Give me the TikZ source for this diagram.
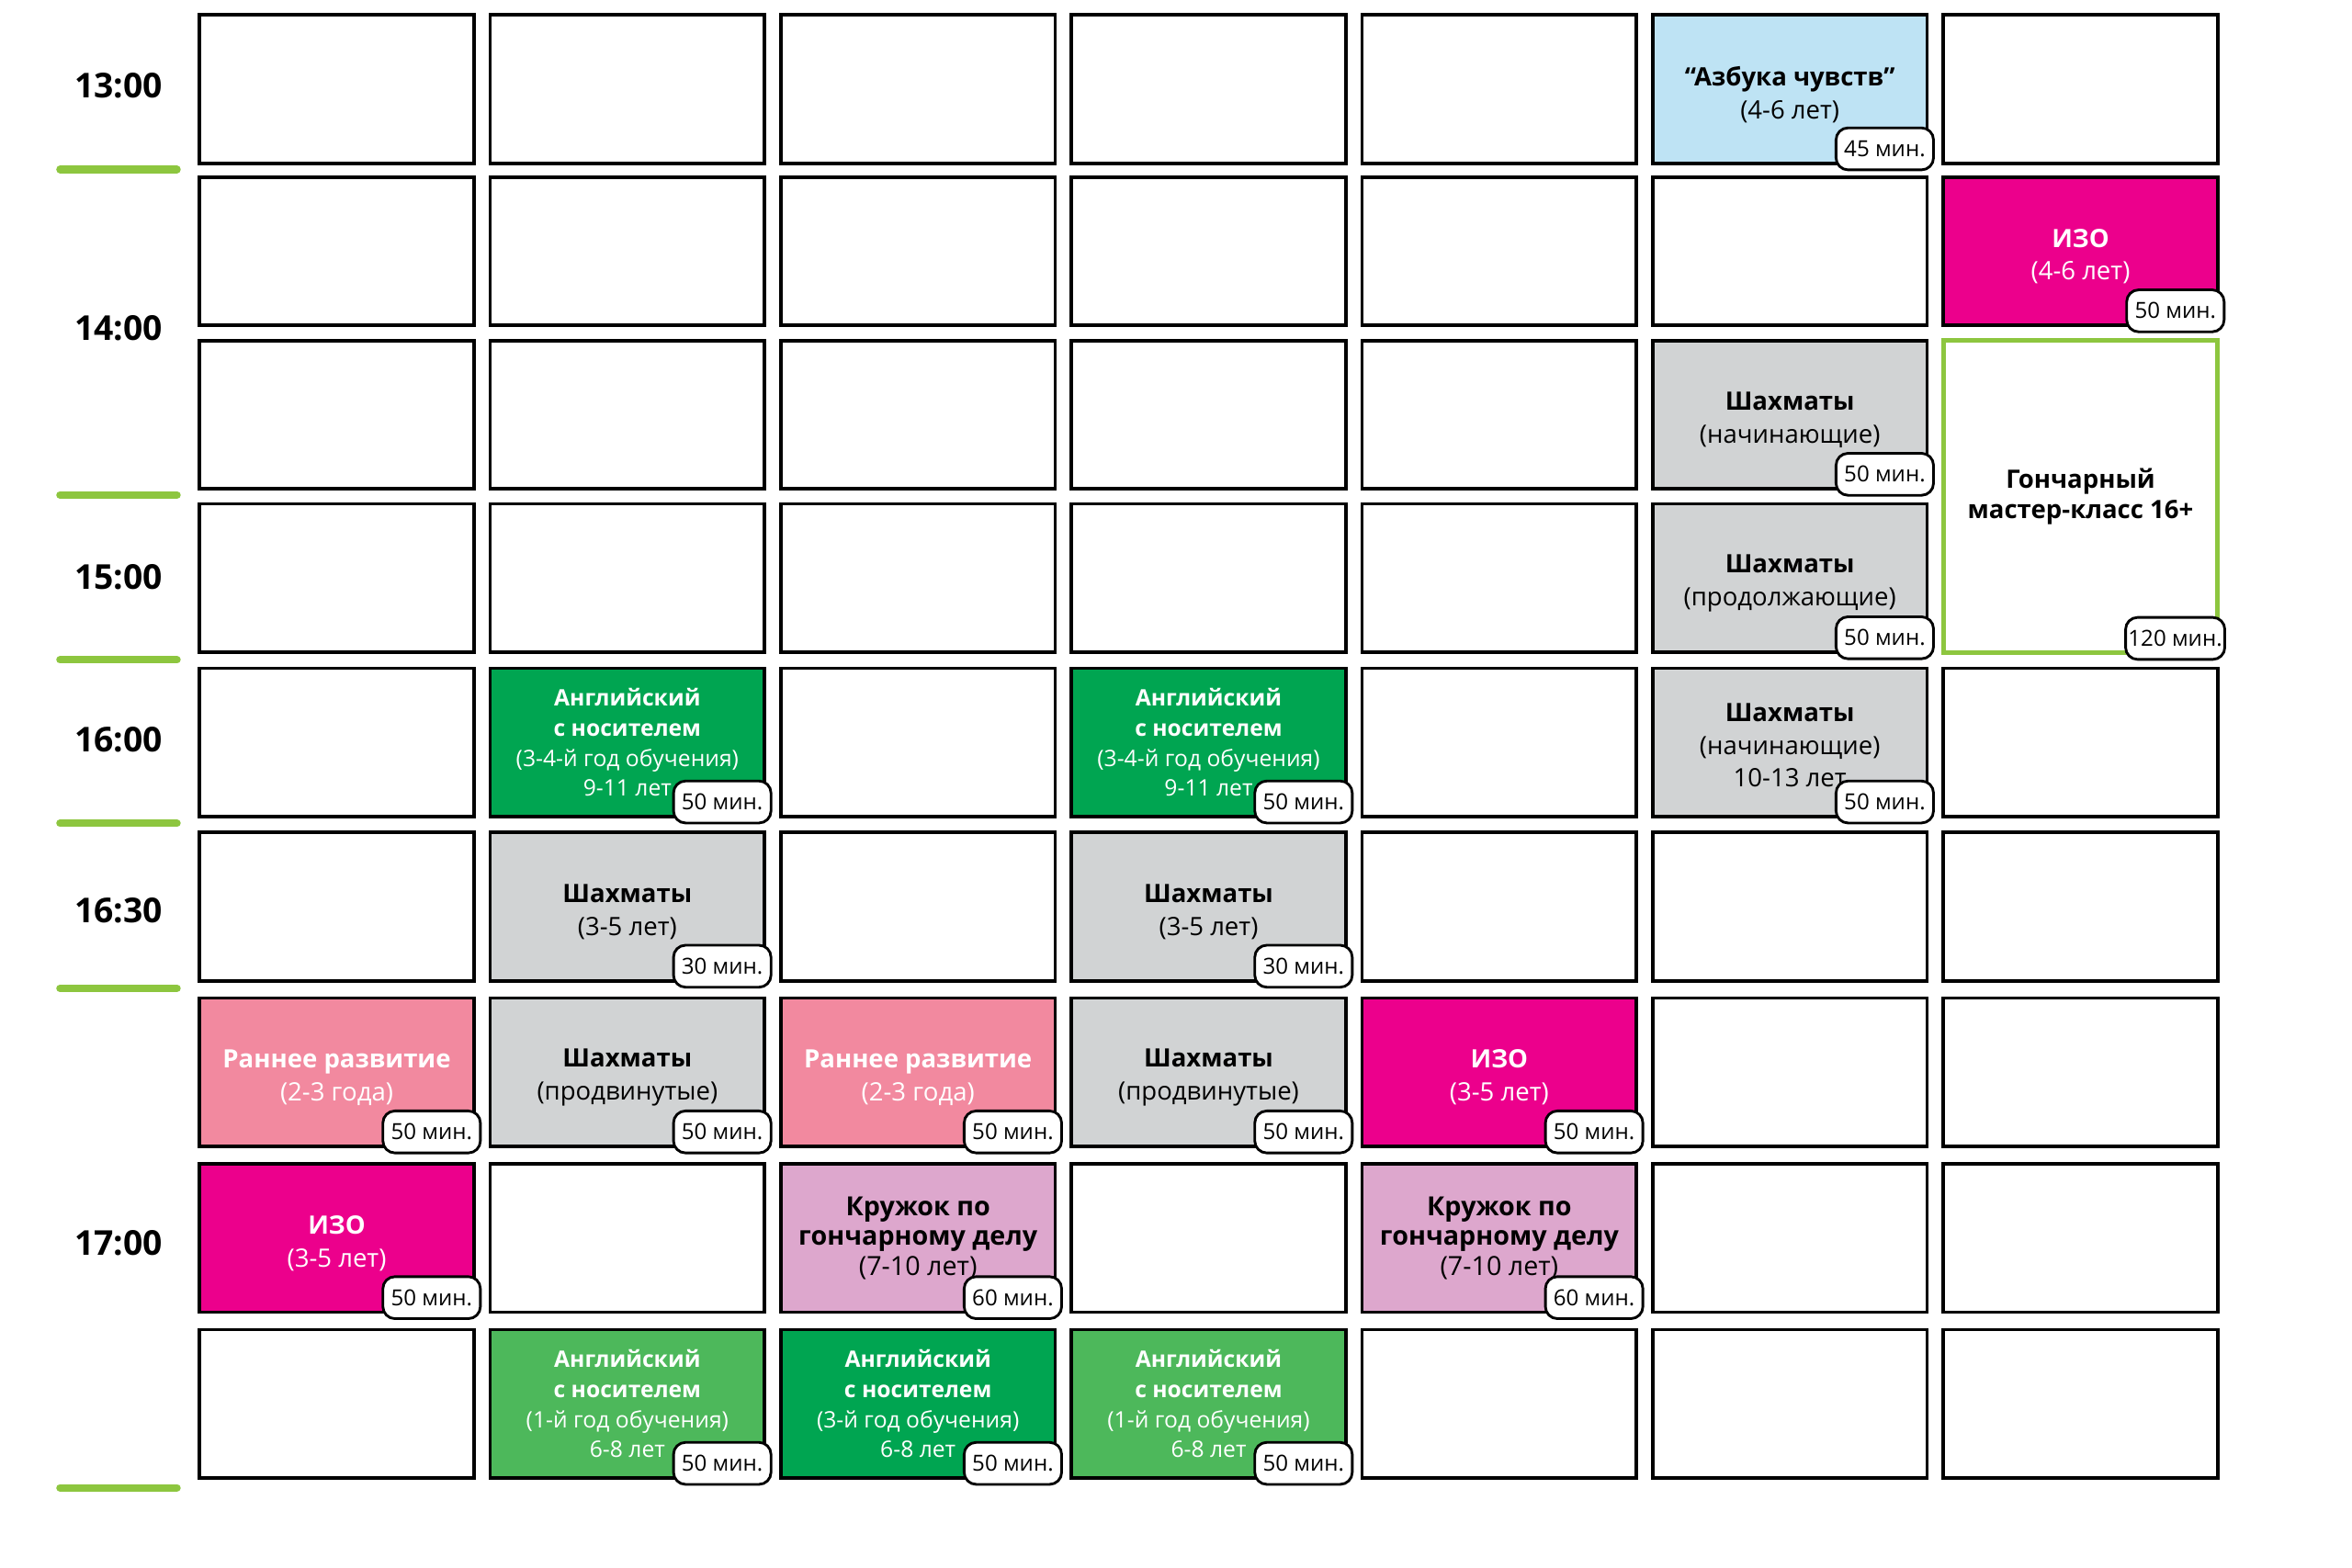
\documentclass[tikz,border=0pt]{standalone}
\usepackage{fontspec}
\setmainfont{Open Sans}
\usepackage{tikz}

\definecolor{tickgreen}{HTML}{8DC63F}
\definecolor{skyblue}{HTML}{BEE3F4}
\definecolor{izopink}{HTML}{EC008C}
\definecolor{chessgray}{HTML}{D1D3D4}
\definecolor{engdark}{HTML}{00A551}
\definecolor{englight}{HTML}{4DB85B}
\definecolor{earlypink}{HTML}{F2899F}
\definecolor{claylilac}{HTML}{DDA7CD}

\tikzset{
  cell/.style={draw, line width=1.3pt, fill=white, minimum width=3.66cm,
    minimum height=1.98cm, inner sep=0pt},
  badge/.style={draw, line width=1pt, fill=white, rounded corners=0.16cm,
    minimum width=1.3cm, minimum height=0.56cm, inner sep=1pt,
    anchor=south east, font=\fontsize{8.4}{9}\selectfont},
  hour/.style={font=\fontsize{13}{15}\selectfont\bfseries},
  tick/.style={tickgreen, line width=0.1cm, line cap=round},
  lbl/.style={align=center, inner sep=0pt, font=\fontsize{9.6}{12.5}\selectfont},
  two/.style={lbl, yshift=-0.07cm},
  twow/.style={two, text=white},
  three/.style={lbl, yshift=-0.04cm},
  clay/.style={lbl, font=\fontsize{10}{11.4}\selectfont},
  eng/.style={lbl, text=white, font=\fontsize{8.6}{11.4}\selectfont},
}

% lesson box, its text and its duration badge
\newcommand*\lesson[6]{
  \node[cell, fill=#3] (#1) at #2 {};
  \node[#4] (#1t) at (#1) {#5};
  \node[badge] (#1m) at ([shift={(4,4)}]#1.south east) {#6~мин.};}

\begin{document}
\begin{tikzpicture}[x=0.02cm, y=-0.02cm]
\useasboundingbox (0,0) rectangle (1568,1045);

% empty grid
\foreach \i/\x in {1/224.5,2/418.25,3/612,4/805.75,5/999.5,6/1193.25,7/1387}
  \foreach \j/\y in {1/59.5,2/167.5,3/276.5,4/385.5,5/495,6/604.5,7/715,8/825.5,9/936}
    \node[cell] (c\i-\j) at (\x,\y) {};

% hours
\node[hour] (h13) at (79,57) {13:00};
\node[hour] (h14) at (79,219) {14:00};
\node[hour] (h15) at (79,385) {15:00};
\node[hour] (h16) at (79,493) {16:00};
\node[hour] (h1630) at (79,607) {16:30};
\node[hour] (h17) at (79,829) {17:00};
\foreach \y in {113,330,440,549,659,992}
  \draw[tick] (40,\y) -- (118,\y);

% lessons
\lesson{l61}{(c6-1)}{skyblue}{two}{\textbf{“Азбука чувств”}\\(4-6 лет)}{45}
\lesson{l72}{(c7-2)}{izopink}{twow}{\textbf{ИЗО}\\(4-6 лет)}{50}
\lesson{l63}{(c6-3)}{chessgray}{two}{\textbf{Шахматы}\\(начинающие)}{50}
\lesson{l64}{(c6-4)}{chessgray}{two}{\textbf{Шахматы}\\(продолжающие)}{50}
\node[cell, draw=tickgreen, line width=1.8pt, minimum height=4.16cm] (l73) at (1387,331) {};
\node[lbl, font=\fontsize{9.6}{11.4}\selectfont\bfseries] (l73t) at (l73)
  {Гончарный\\мастер-класс 16+};
\node[badge] (l73m) at ([shift={(4,4)}]l73.south east) {120~мин.};
\lesson{l25}{(c2-5)}{engdark}{eng}{\textbf{Английский}\\\textbf{с носителем}\\(3-4-й год обучения)\\9-11 лет}{50}
\lesson{l45}{(c4-5)}{engdark}{eng}{\textbf{Английский}\\\textbf{с носителем}\\(3-4-й год обучения)\\9-11 лет}{50}
\lesson{l65}{(c6-5)}{chessgray}{three}{\textbf{Шахматы}\\(начинающие)\\10-13 лет}{50}
\lesson{l26}{(c2-6)}{chessgray}{two}{\textbf{Шахматы}\\(3-5 лет)}{30}
\lesson{l46}{(c4-6)}{chessgray}{two}{\textbf{Шахматы}\\(3-5 лет)}{30}
\lesson{l17}{(c1-7)}{earlypink}{twow}{\textbf{Раннее развитие}\\(2-3 года)}{50}
\lesson{l27}{(c2-7)}{chessgray}{two}{\textbf{Шахматы}\\(продвинутые)}{50}
\lesson{l37}{(c3-7)}{earlypink}{twow}{\textbf{Раннее развитие}\\(2-3 года)}{50}
\lesson{l47}{(c4-7)}{chessgray}{two}{\textbf{Шахматы}\\(продвинутые)}{50}
\lesson{l57}{(c5-7)}{izopink}{twow}{\textbf{ИЗО}\\(3-5 лет)}{50}
\lesson{l18}{(c1-8)}{izopink}{twow}{\textbf{ИЗО}\\(3-5 лет)}{50}
\lesson{l38}{(c3-8)}{claylilac}{clay}{\textbf{Кружок по}\\\textbf{гончарному делу}\\(7-10 лет)}{60}
\lesson{l58}{(c5-8)}{claylilac}{clay}{\textbf{Кружок по}\\\textbf{гончарному делу}\\(7-10 лет)}{60}
\lesson{l29}{(c2-9)}{englight}{eng}{\textbf{Английский}\\\textbf{с носителем}\\(1-й год обучения)\\6-8 лет}{50}
\lesson{l39}{(c3-9)}{engdark}{eng}{\textbf{Английский}\\\textbf{с носителем}\\(3-й год обучения)\\6-8 лет}{50}
\lesson{l49}{(c4-9)}{englight}{eng}{\textbf{Английский}\\\textbf{с носителем}\\(1-й год обучения)\\6-8 лет}{50}
\end{tikzpicture}
\end{document}
